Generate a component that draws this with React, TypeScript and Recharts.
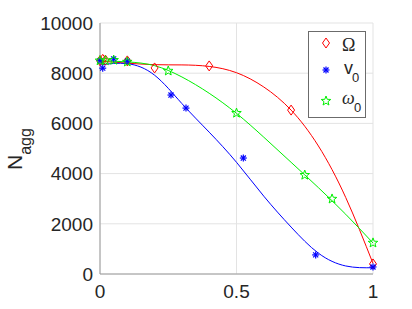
import React from 'react';
import { ComposedChart, Line, Scatter, XAxis, YAxis, CartesianGrid, Legend } from 'recharts';

// Fitted curves
const omegaCurveX = [0, 0.1, 0.2, 0.3, 0.4, 0.5, 0.6, 0.7, 0.8, 0.9, 1];
const omegaCurveY = [8480, 8400, 8340, 8330, 8270, 8020, 7450, 6530, 5100, 3050, 420];
const v0CurveX = [0, 0.1, 0.2, 0.3, 0.4, 0.5, 0.6, 0.7, 0.8, 0.9, 1];
const v0CurveY = [8330, 8380, 7920, 6790, 5650, 4450, 3100, 1870, 830, 320, 250];
const w0CurveX = [0, 0.1, 0.2, 0.3, 0.4, 0.5, 0.6, 0.7, 0.8, 0.9, 1];
const w0CurveY = [8500, 8450, 8300, 7850, 7200, 6400, 5450, 4450, 3440, 2380, 1235];

// Measured points
const omegaX = [0, 0.01, 0.02, 0.1, 0.2, 0.4, 0.7, 1];
const omegaY = [8500, 8550, 8520, 8490, 8210, 8290, 6530, 400];
const v0X = [0, 0.01, 0.05, 0.1, 0.26, 0.315, 0.525, 0.79, 1];
const v0Y = [8500, 8200, 8570, 8480, 7130, 6610, 4620, 760, 280];
const w0X = [0, 0.02, 0.05, 0.1, 0.25, 0.5, 0.75, 0.85, 1];
const w0Y = [8500, 8500, 8520, 8450, 8090, 6410, 3940, 2990, 1240];

const xTicks = [0, 0.5, 1];
const yTicks = [0, 2000, 4000, 6000, 8000, 10000];

const zip = (xs: number[], ys: number[]) => xs.map((x, i) => ({ x, y: ys[i] }));

const RED = '#ff0000';
const BLUE = '#0000ff';
const GREEN = '#00f000';
const FONT = '"Liberation Sans", Arial, Helvetica, sans-serif';

const Diamond = ({ cx, cy }: any) => (
  <polygon
    points={`${cx},${cy - 5} ${cx + 3.5},${cy} ${cx},${cy + 5} ${cx - 3.5},${cy}`}
    fill="none"
    stroke={RED}
    strokeWidth={1}
  />
);

const Asterisk = ({ cx, cy }: any) => {
  const r = 3.5;
  const d = r * 0.72;
  return (
    <g stroke={BLUE} strokeWidth={1.2}>
      <line x1={cx - r} y1={cy} x2={cx + r} y2={cy} />
      <line x1={cx} y1={cy - r} x2={cx} y2={cy + r} />
      <line x1={cx - d} y1={cy - d} x2={cx + d} y2={cy + d} />
      <line x1={cx - d} y1={cy + d} x2={cx + d} y2={cy - d} />
    </g>
  );
};

const starPoints = (cx: number, cy: number, ro: number, ri: number) => {
  const pts: string[] = [];
  for (let i = 0; i < 10; i++) {
    const r = i % 2 === 0 ? ro : ri;
    const a = -Math.PI / 2 + (i * Math.PI) / 5;
    pts.push(`${cx + r * Math.cos(a)},${cy + r * Math.sin(a)}`);
  }
  return pts.join(' ');
};

const Star = ({ cx, cy }: any) => (
  <polygon points={starPoints(cx, cy, 5, 2.1)} fill="none" stroke={GREEN} strokeWidth={1} />
);

const LegendBox = () => (
  <svg width={58} height={87} style={{ display: 'block' }}>
    <rect x={0.5} y={0.5} width={57} height={86} fill="#fff" stroke="#6b6b6b" strokeWidth={1} />
    <Diamond cx={18} cy={12} />
    <Asterisk cx={18} cy={39} />
    <Star cx={18} cy={70} />
    <text x={34} y={20} fontSize={18} fontFamily='"Liberation Serif", "DejaVu Serif", serif' fill="#262626">Ω</text>
    <text x={36} y={43} fontSize={18} fontFamily={FONT} fill="#262626">v</text>
    <text x={44} y={51} fontSize={13} fontFamily={FONT} fill="#262626">0</text>
    <text x={34} y={73} fontSize={18} fontStyle="italic" fontFamily='"Liberation Serif", "DejaVu Serif", serif' fill="#262626">ω</text>
    <text x={46} y={81} fontSize={13} fontFamily={FONT} fill="#262626">0</text>
  </svg>
);

const YLabel = () => (
  <text transform="rotate(-90)" x={-170} y={22} fontSize={21} fontFamily={FONT} fill="#262626">
    N
    <tspan fontSize={16} dy={9}>agg</tspan>
  </text>
);

export default function App() {
  return (
    <div style={{ position: 'absolute', left: 0, top: 0, width: 412, height: 309, background: '#fff' }}>
      <ComposedChart width={412} height={309} margin={{ top: 23, right: 39, bottom: 5, left: 0 }}>
        <CartesianGrid stroke="#e3e3e3" strokeWidth={1} />
        <XAxis
          type="number"
          dataKey="x"
          domain={[0, 1]}
          ticks={xTicks}
          tickFormatter={(v: number) => String(v)}
          height={30}
          stroke="#9a9a9a"
          tickLine={false}
          tickSize={0}
          tickMargin={11}
          tick={{ fill: '#262626', fontSize: 19, fontFamily: FONT }}
          allowDuplicatedCategory={false}
        />
        <YAxis
          type="number"
          dataKey="y"
          domain={[0, 10000]}
          ticks={yTicks}
          width={100}
          stroke="#9a9a9a"
          tickLine={false}
          tickSize={0}
          tickMargin={7}
          tick={{ fill: '#262626', fontSize: 19, fontFamily: FONT }}
          label={{ content: () => <YLabel /> }}
        />
        <Line data={zip(omegaCurveX, omegaCurveY)} dataKey="y" type="natural" stroke={RED} strokeWidth={1} dot={false} isAnimationActive={false} legendType="none" />
        <Line data={zip(v0CurveX, v0CurveY)} dataKey="y" type="natural" stroke={BLUE} strokeWidth={1} dot={false} isAnimationActive={false} legendType="none" />
        <Line data={zip(w0CurveX, w0CurveY)} dataKey="y" type="natural" stroke={GREEN} strokeWidth={1} dot={false} isAnimationActive={false} legendType="none" />
        <Scatter data={zip(omegaX, omegaY)} dataKey="y" shape={Diamond} isAnimationActive={false} />
        <Scatter data={zip(v0X, v0Y)} dataKey="y" shape={Asterisk} isAnimationActive={false} />
        <Scatter data={zip(w0X, w0Y)} dataKey="y" shape={Star} isAnimationActive={false} />
        <Legend
          layout="vertical"
          align="center"
          verticalAlign="middle"
          content={() => <LegendBox />}
          wrapperStyle={{ position: 'absolute', left: 308, top: 31, width: 58, height: 87 }}
        />
      </ComposedChart>
    </div>
  );
}
